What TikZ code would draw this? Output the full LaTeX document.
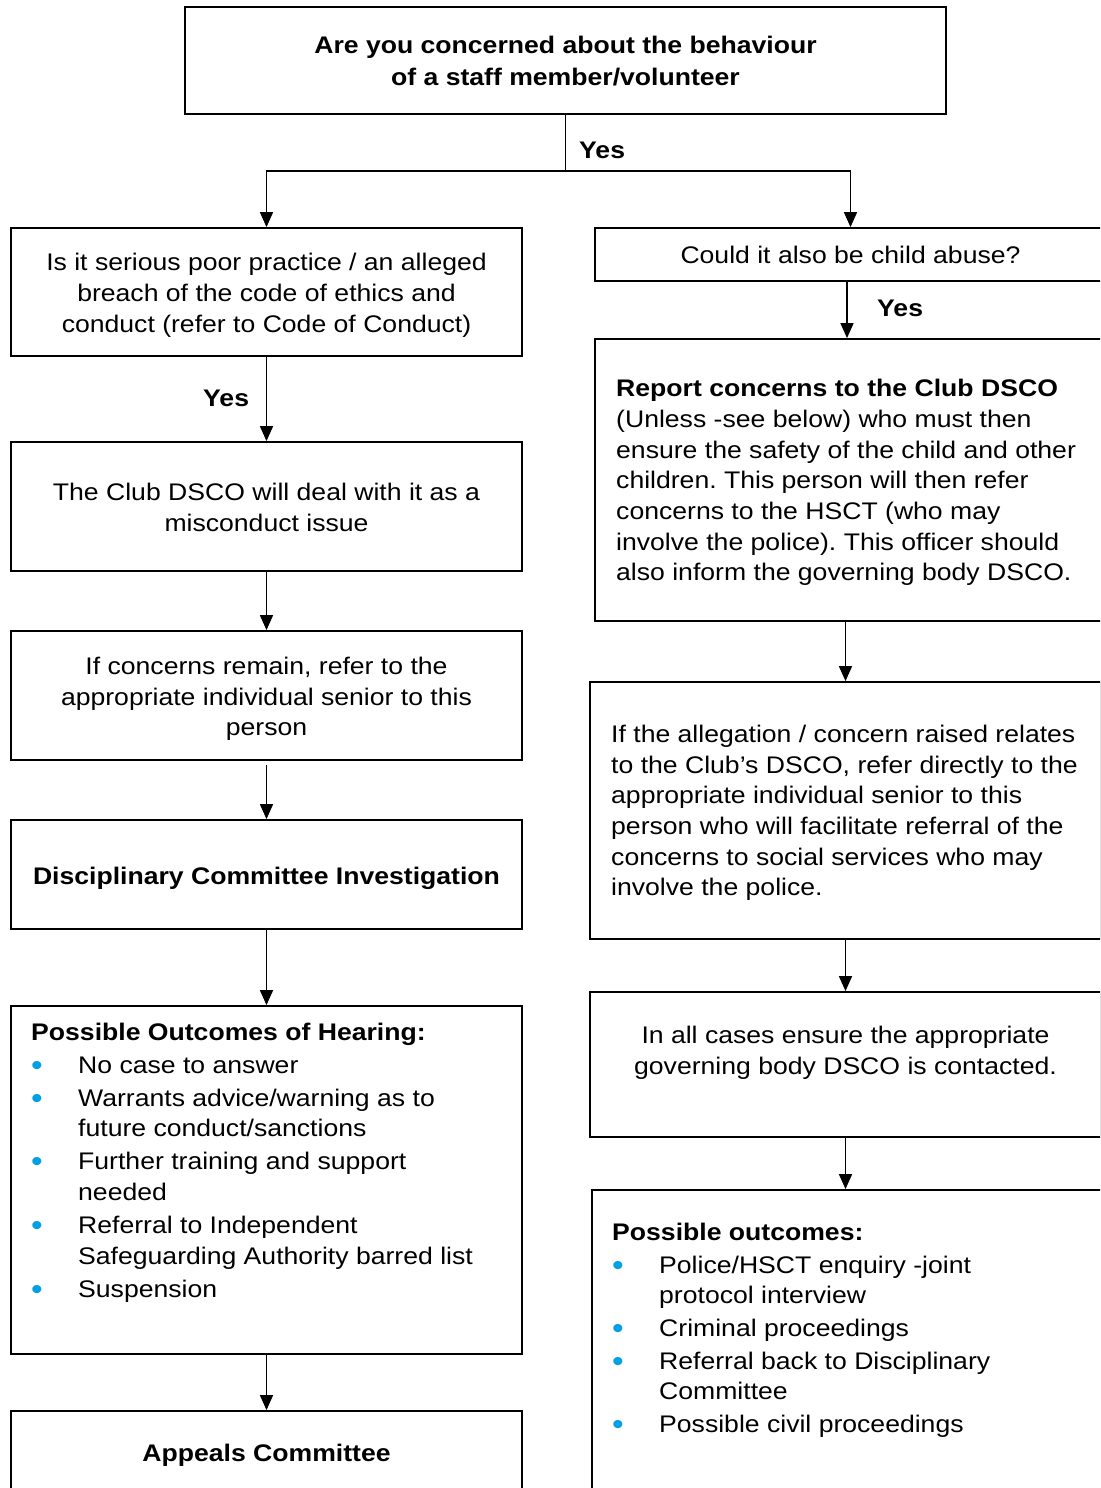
\documentclass[tikz,border=0pt]{standalone}
\usepackage{fontspec}
\setmainfont{Liberation Sans}[FakeStretch=1.108]
\usetikzlibrary{arrows.meta}
\definecolor{bulblue}{RGB}{0,160,226}
\frenchspacing
\newcommand\fsz{\fontsize{24}{30.67}\selectfont}
\newcommand\bitem[1]{\par\hangindent=47pt\hangafter=1\noindent\makebox[47pt][l]{\raisebox{-2pt}{\scalebox{1.25}{\textcolor{bulblue}{•}}}}#1}
\tikzset{
  box/.style={draw, line width=1.8pt, inner sep=0pt},
  txt/.style={inner sep=0pt, font=\fsz},
  conn/.style={line width=1.6pt},
  arr/.style={line width=1.6pt, -{Triangle[length=15pt,width=13pt]}}
}
\begin{document}
\begin{tikzpicture}[x=1pt,y=-1pt]
\useasboundingbox (0,0) rectangle (1100,1488);
\clip (0,0) rectangle (1100,1488);
% boxes
\node[box, minimum width=761pt, minimum height=107pt] (top) at (565.5,60.5) {};
\node[box, minimum width=511pt, minimum height=128pt] (l1) at (266.5,292) {};
\node[box, minimum width=511pt, minimum height=129pt] (l2) at (266.5,506.5) {};
\node[box, minimum width=511pt, minimum height=129pt] (l3) at (266.5,695.5) {};
\node[box, minimum width=511pt, minimum height=109pt] (l4) at (266.5,874.5) {};
\node[box, minimum width=511pt, minimum height=348pt] (l5) at (266.5,1180) {};
\node[box, minimum width=511pt, minimum height=89pt] (l6) at (266.5,1455.5) {};
\node[box, minimum width=511pt, minimum height=53pt] (r1) at (850.5,254.5) {};
\node[box, minimum width=511pt, minimum height=282pt] (r2) at (850.5,480) {};
\node[box, minimum width=511pt, minimum height=257pt] (r3) at (845.5,810.5) {};
\node[box, minimum width=511pt, minimum height=145pt] (r4) at (845.5,1064.5) {};
\node[box, minimum width=511pt, minimum height=310pt] (r5) at (847.5,1345) {};
% texts
\node[txt, anchor=base] (ttop) at (565.5,53.3) {\parbox[t]{740pt}{\fontsize{24}{31.7}\selectfont\centering\bfseries Are you concerned about the behaviour\\of a staff member/volunteer}};
\node[txt, anchor=base west] (yes1) at (579,158.3) {\bfseries Yes};
\node[txt, anchor=base] (tl1) at (266.5,270.7) {\parbox[t]{490pt}{\centering Is it serious poor practice / an alleged\\breach of the code of ethics and\\conduct (refer to Code of Conduct)}};
\node[txt, anchor=base west] (yes2) at (203,406.5) {\bfseries Yes};
\node[txt, anchor=base] (tl2) at (266.5,500.5) {\parbox[t]{490pt}{\centering The Club DSCO will deal with it as a\\misconduct issue}};
\node[txt, anchor=base] (tl3) at (266.5,674.5) {\parbox[t]{490pt}{\centering If concerns remain, refer to the\\appropriate individual senior to this\\person}};
\node[txt, anchor=base] (tl4) at (266.5,884.5) {\bfseries Disciplinary Committee Investigation};
\node[txt, anchor=base west] (tl5) at (31,1040) {\parbox[t]{480pt}{\setlength{\parskip}{2.4pt}\textbf{Possible Outcomes of Hearing:}%
\bitem{No case to answer}%
\bitem{Warrants advice/warning as to\\future conduct/sanctions}%
\bitem{Further training and support\\needed}%
\bitem{Referral to Independent\\Safeguarding Authority barred list}%
\bitem{Suspension}}};
\node[txt, anchor=base] (tl6) at (266.5,1461.5) {\bfseries Appeals Committee};
\node[txt, anchor=base] (tr1) at (850.5,263.5) {Could it also be child abuse?};
\node[txt, anchor=base west] (yes3) at (877,316.7) {\bfseries Yes};
\node[txt, anchor=base west] (tr2) at (616,396.7) {\parbox[t]{480pt}{\textbf{Report concerns to the Club DSCO}\\(Unless -see below) who must then\\ensure the safety of the child and other\\children. This person will then refer\\concerns to the HSCT (who may\\involve the police). This officer should\\also inform the governing body DSCO.}};
\node[txt, anchor=base west] (tr3) at (611,742.5) {\parbox[t]{485pt}{If the allegation / concern raised relates\\to the Club’s DSCO, refer directly to the\\appropriate individual senior to this\\person who will facilitate referral of the\\concerns to social services who may\\involve the police.}};
\node[txt, anchor=base] (tr4) at (845.5,1043.5) {\parbox[t]{490pt}{\centering In all cases ensure the appropriate\\governing body DSCO is contacted.}};
\node[txt, anchor=base west] (tr5) at (612,1240.5) {\parbox[t]{480pt}{\setlength{\parskip}{2.0pt}\textbf{Possible outcomes:}%
\bitem{Police/HSCT enquiry -joint\\protocol interview}%
\bitem{Criminal proceedings}%
\bitem{Referral back to Disciplinary\\Committee}%
\bitem{Possible civil proceedings}}};
% connectors
\coordinate (j) at (565.5,170.7);
\draw[conn] (top.south) -- (j);
\draw[arr] (j) -| (l1.north);
\draw[arr] (j) -| (r1.north);
\draw[arr] (l1.south) -- (l2.north);
\draw[arr] (l2.south) -- (l3.north);
\draw[arr] ([yshift=-4pt]l3.south) -- (l4.north);
\draw[arr] (l4.south) -- (l5.north);
\draw[arr] (l5.south) -- (l6.north);
\draw[arr] ([xshift=-3.5pt]r1.south) -- ([xshift=-3.5pt]r2.north);
\draw[arr] (r3.north |- r2.south) -- (r3.north);
\draw[arr] (r3.south) -- (r4.north);
\draw[arr] (r4.south) -- (r4.south |- r5.north);
\end{tikzpicture}
\end{document}
